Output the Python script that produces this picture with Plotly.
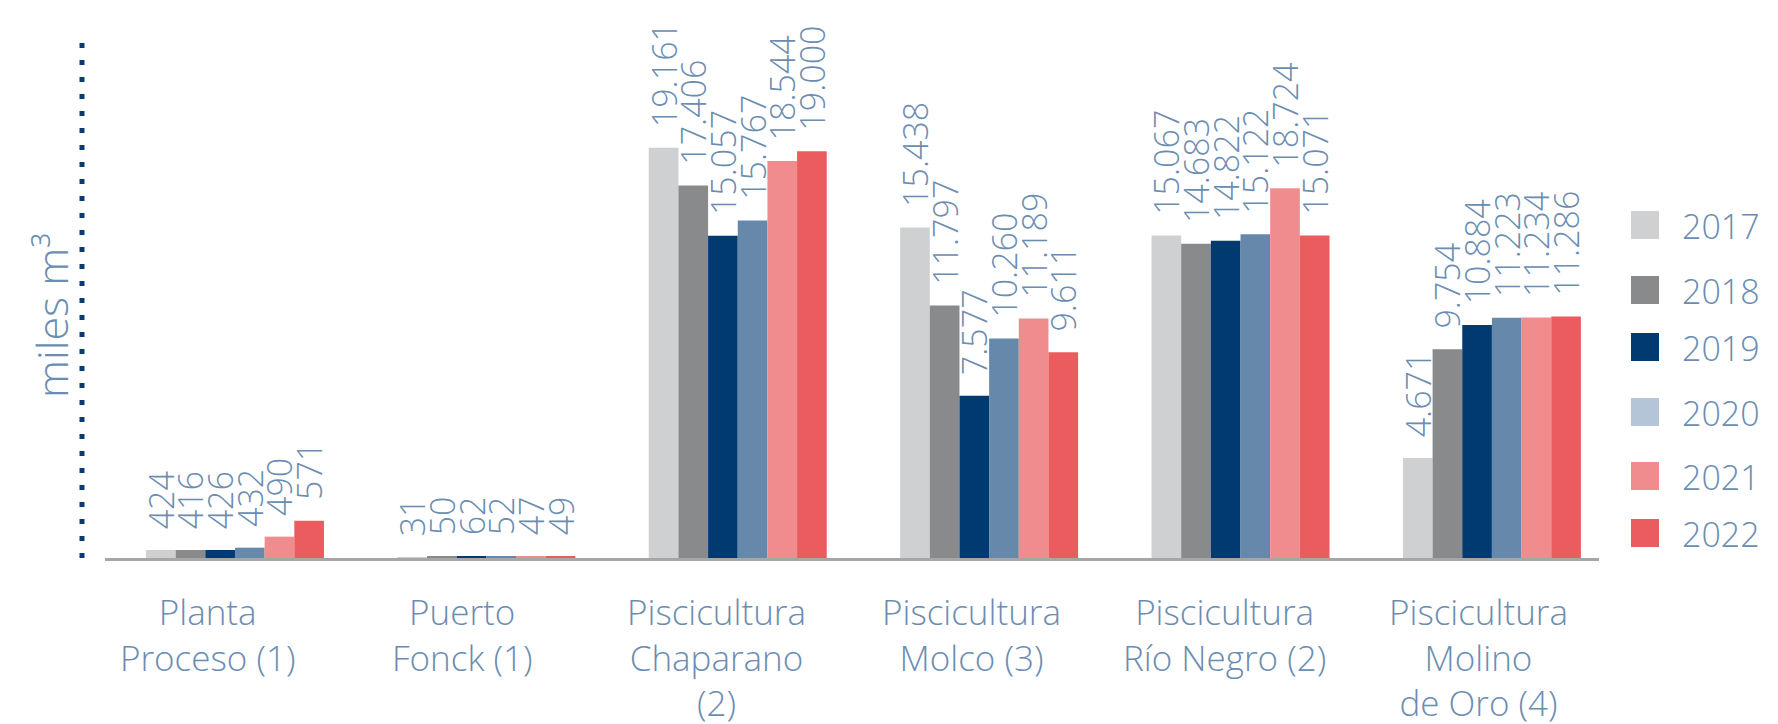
import plotly.graph_objects as go

# ---------------- data ----------------
sites = ["Planta Proceso (1)", "Puerto Fonck (1)", "Piscicultura Chaparano (2)",
         "Piscicultura Molco (3)", "Piscicultura Río Negro (2)", "Piscicultura Molino de Oro (4)"]
site_labels = ["Planta<br>Proceso (1)", "Puerto<br>Fonck (1)", "Piscicultura<br>Chaparano<br>(2)",
               "Piscicultura<br>Molco (3)", "Piscicultura<br>Río Negro (2)",
               "Piscicultura<br>Molino<br>de Oro (4)"]
years = ["2017", "2018", "2019", "2020", "2021", "2022"]

# bar heights as drawn (miles m³)
v2017 = [0.374, 0.031, 19.161, 15.438, 15.067, 4.671]
v2018 = [0.374, 0.050, 17.406, 11.797, 14.683, 9.754]
v2019 = [0.374, 0.062, 15.057, 7.577, 14.822, 10.884]
v2020 = [0.482, 0.052, 15.767, 10.260, 15.122, 11.223]
v2021 = [0.997, 0.047, 18.544, 11.189, 17.270, 11.234]
v2022 = [1.746, 0.049, 19.000, 9.611, 15.071, 11.286]

# data labels as printed
t2017 = ["424", "31", "19.161", "15.438", "15.067", "4.671"]
t2018 = ["416", "50", "17.406", "11.797", "14.683", "9.754"]
t2019 = ["426", "62", "15.057", "7.577", "14.822", "10.884"]
t2020 = ["432", "52", "15.767", "10.260", "15.122", "11.223"]
t2021 = ["490", "47", "18.544", "11.189", "18.724", "11.234"]
t2022 = ["571", "49", "19.000", "9.611", "15.071", "11.286"]

values = [v2017, v2018, v2019, v2020, v2021, v2022]
texts = [t2017, t2018, t2019, t2020, t2021, t2022]

# ---------------- style ----------------
bar_colors = ["#cfd0d2", "#898a8c", "#003a70", "#6688ab", "#f08c8e", "#ea5c5e"]
legend_colors = ["#cfd0d2", "#898a8c", "#003a70", "#b3c5d7", "#f08c8e", "#ea5c5e"]
TXT = "#6b8db1"
FONT = "Open Sans"
OFF = 8                       # page body margin
W, H = 1778 - OFF, 724 - OFF
ML, MT = 105 - OFF, 40 - OFF
MB = H - (558 - OFF)
MR = W - (1599 - OFF)
PW, PH = W - ML - MR, H - MT - MB
PAD = "\u00a0\u00a0"
label_xshift = [-27, -24, -21, -18, -16, -13]


def px_x(px):   # page pixel -> paper x
    return (px - 105) / PW


def px_y(py):   # page pixel -> paper y
    return (558 - py) / PH


fig = go.Figure()
for y, vals, txt, col in zip(years, values, texts, bar_colors):
    fig.add_trace(go.Bar(
        name=y, x=sites, y=vals, marker=dict(color=col, line=dict(width=0)),
        text=[PAD + s for s in txt], textposition="outside", textangle=-90,
        textfont=dict(family=FONT, size=34, color=TXT, weight=300),
        constraintext="none", cliponaxis=False, showlegend=False,
        hoverinfo="skip",
    ))

shapes = []
annotations = []

# dotted y axis line
shapes.append(dict(type="line", xref="paper", yref="paper",
                   x0=px_x(82), x1=px_x(82), y0=0, y1=1,
                   line=dict(color="#0b3a6e", width=5, dash="5px,12px")))

# y-axis title
annotations.append(dict(text="miles m³", xref="paper", yref="paper",
                        x=px_x(51), y=px_y(316), xanchor="center", yanchor="middle",
                        textangle=-90, showarrow=False,
                        font=dict(family=FONT, size=43, color=TXT, weight=300)))

# category labels
for s, lab, dx in zip(sites, site_labels, label_xshift):
    annotations.append(dict(text=lab, x=s, y=0, xref="x", yref="y",
                            xanchor="center", yanchor="top", yshift=-28, xshift=dx,
                            showarrow=False, align="center",
                            font=dict(family=FONT, size=35, color=TXT, weight=300)))

# legend
legend_centers = [225, 290, 347, 412, 476, 533]
for y, col, c in zip(years, legend_colors, legend_centers):
    shapes.append(dict(type="rect", xref="paper", yref="paper",
                       x0=px_x(1631), x1=px_x(1659), y0=px_y(c + 14), y1=px_y(c - 14),
                       fillcolor=col, line=dict(width=0)))
    annotations.append(dict(text=y, xref="paper", yref="paper",
                            x=px_x(1680), y=px_y(c + 1), xanchor="left", yanchor="middle",
                            showarrow=False,
                            font=dict(family=FONT, size=34, color=TXT, weight=300)))

fig.update_layout(
    width=W, height=H,
    margin=dict(l=ML, r=MR, t=MT, b=MB, pad=0),
    paper_bgcolor="white", plot_bgcolor="white",
    barmode="group", bargap=0.292, bargroupgap=0,
    font=dict(family=FONT, color=TXT),
    xaxis=dict(type="category", range=[-0.517, 5.426], showgrid=False, zeroline=False,
               showline=True, linecolor="#a6a6a6", linewidth=3,
               showticklabels=False, ticks=""),
    yaxis=dict(range=[0, 24.2], showgrid=False, zeroline=False, showline=False,
               showticklabels=False, ticks=""),
    shapes=shapes, annotations=annotations,
    showlegend=False,
)

fig.write_html("out.html")
